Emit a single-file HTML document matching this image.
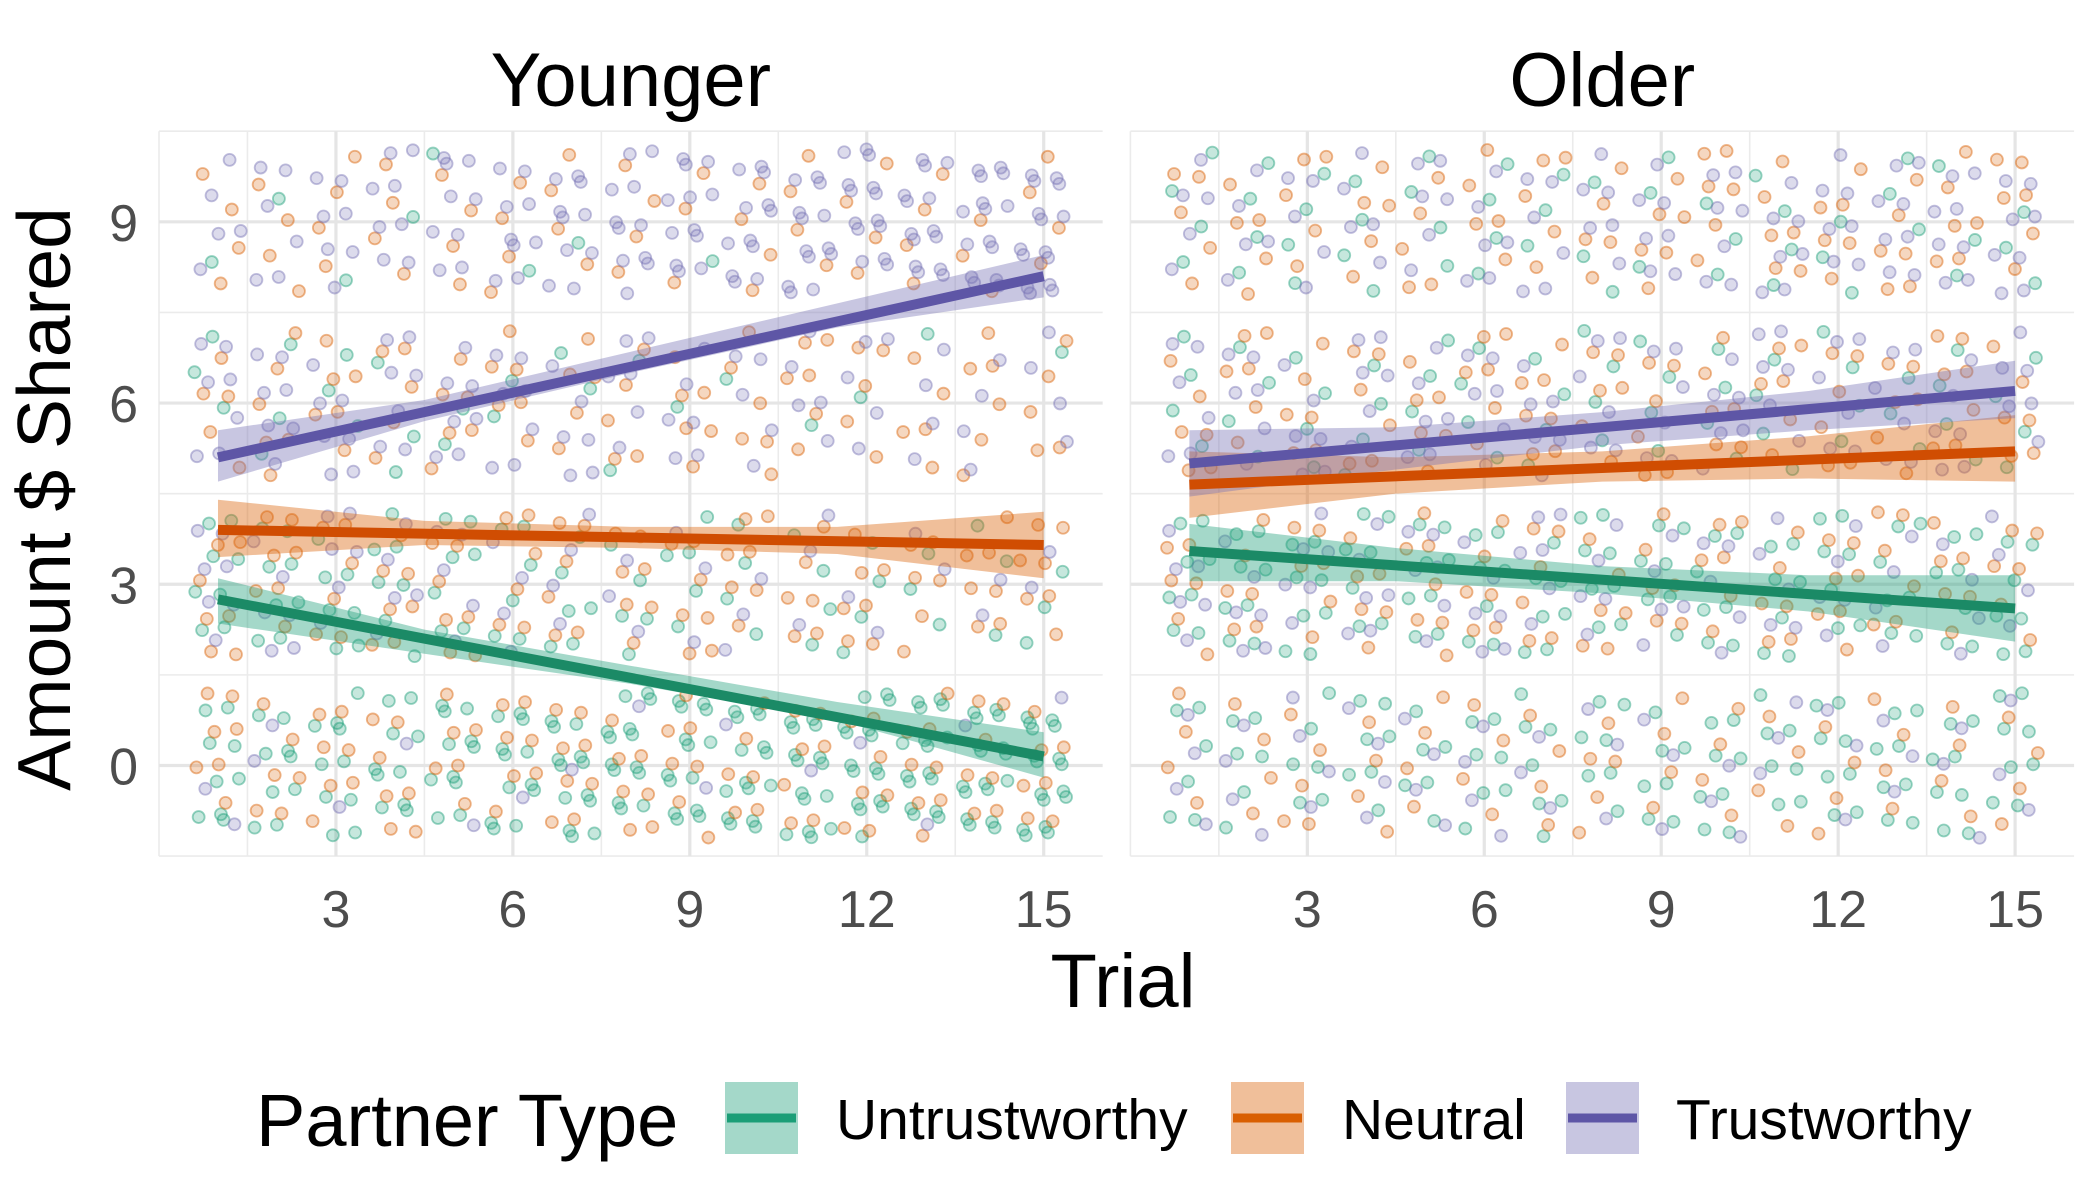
<!DOCTYPE html>
<html><head><meta charset="utf-8"><style>
html,body{margin:0;padding:0;background:#fff;}
svg{display:block;font-family:"Liberation Sans",Arial,sans-serif;}
</style></head><body>
<svg id="chart" width="2100" height="1200" viewBox="0 0 2100 1200" xmlns="http://www.w3.org/2000/svg">
<rect width="2100" height="1200" fill="#fff"/>
<g id="panels"></g>
<text transform="translate(70,499) rotate(-90)" text-anchor="middle" font-size="75" fill="#000">Amount $ Shared</text>
<text x="1123" y="1007" text-anchor="middle" font-size="76" fill="#000">Trial</text>
<g>
<text x="256" y="1146" font-size="74" fill="#000">Partner Type</text>
<g>
<rect x="725" y="1082" width="73" height="72" fill="#1b9e77" fill-opacity="0.4"/>
<line x1="727" y1="1118" x2="796" y2="1118" stroke="#1b9e77" stroke-width="9"/>
<text x="836" y="1139" font-size="57" fill="#000">Untrustworthy</text></g>
<g>
<rect x="1231" y="1082" width="73" height="72" fill="#d95f02" fill-opacity="0.4"/>
<line x1="1233" y1="1118" x2="1302" y2="1118" stroke="#d95f02" stroke-width="9"/>
<text x="1342" y="1139" font-size="57" fill="#000">Neutral</text></g>
<g>
<rect x="1566" y="1082" width="73" height="72" fill="#7570b3" fill-opacity="0.4"/>
<line x1="1568" y1="1118" x2="1637" y2="1118" stroke="#5e56a6" stroke-width="9"/>
<text x="1676" y="1139" font-size="57" fill="#000">Trustworthy</text></g>
</g>
</svg>
<script>
// ---- data ----
const groups = ["Younger","Older"];
const types = ["Untrustworthy","Neutral","Trustworthy"];
const levels = [0,3,6,9];
const xTicks = [3,6,9,12,15];
const yTicks = [0,3,6,9];
// counts per trial (1..15) of responses at each level, [group][type][level]
const countsYoungerU = [[9,9,10,10,11,12,13,14,14,15,15,16,16,17,17],[8,8,7,7,7,6,6,5,5,4,4,4,3,3,3],[3,3,3,3,2,2,2,2,1,1,1,1,1,0,1],[1,1,1,1,1,1,1,0,1,0,0,0,0,0,0]];
const countsYoungerN = [[7,6,7,7,6,7,8,7,7,6,7,7,8,7,7],[7,7,6,7,7,6,6,7,7,7,6,7,6,7,7],[5,6,6,5,6,6,5,5,6,6,6,5,5,6,5],[4,4,4,4,4,4,4,4,3,4,4,4,4,3,4]];
const countsYoungerT = [[2,2,1,1,1,1,1,1,1,1,1,1,1,1,1],[7,6,6,5,5,4,4,3,3,3,3,2,2,2,2],[7,7,7,7,7,7,6,6,6,5,5,5,4,4,4],[5,6,7,8,9,9,10,11,12,12,13,14,14,15,15]];
const countsOlderU = [[6,6,6,7,6,7,7,7,7,8,7,8,8,8,8],[8,8,8,7,8,7,7,8,7,7,7,7,7,7,7],[4,4,4,4,4,4,4,4,4,4,4,4,3,4,4],[4,4,4,4,4,4,3,3,3,3,4,3,3,3,3]];
const countsOlderN = [[4,4,5,4,4,4,4,5,4,4,4,4,4,4,4],[6,6,6,6,7,6,6,6,6,6,6,7,6,6,6],[6,6,6,6,6,6,7,6,6,6,6,6,6,7,6],[5,5,5,5,5,5,5,5,6,6,6,6,6,6,6]];
const countsOlderT = [[4,4,4,4,4,4,3,3,3,3,3,3,3,3,3],[6,6,6,6,6,6,6,5,5,5,5,5,4,4,4],[6,6,6,6,6,6,6,6,6,6,6,6,6,6,6],[5,5,5,5,6,6,6,6,7,7,7,7,8,8,8]];
// regression fits: value at trial 1 and trial 15
const fitStartYounger = [2.75,3.9,5.1];
const fitEndYounger = [0.15,3.65,8.1];
const fitStartOlder = [3.55,4.65,5.0];
const fitEndOlder = [2.6,5.2,6.2];
// confidence band at trials bandX
const bandX = [1,4.5,8,11.5,15];
const bandLoYoungerU = [2.35,1.85,1.35,0.75,-0.2];
const bandHiYoungerU = [3.1,2.25,1.65,1.05,0.55];
const bandLoYoungerN = [3.45,3.65,3.6,3.5,3.1];
const bandHiYoungerN = [4.4,4.05,3.95,3.95,4.2];
const bandLoYoungerT = [4.7,5.7,6.5,7.25,7.75];
const bandHiYoungerT = [5.55,6.05,6.85,7.65,8.45];
const bandLoOlderU = [3.05,3.05,2.85,2.55,2.05];
const bandHiOlderU = [4.0,3.6,3.3,3.15,3.15];
const bandLoOlderN = [4.1,4.5,4.7,4.75,4.7];
const bandHiOlderN = [5.2,5.1,5.2,5.45,5.8];
const bandLoOlderT = [4.45,4.9,5.3,5.55,5.75];
const bandHiOlderT = [5.55,5.6,5.85,6.2,6.7];

const counts = [[countsYoungerU,countsYoungerN,countsYoungerT],[countsOlderU,countsOlderN,countsOlderT]];
const fitStart = [fitStartYounger,fitStartOlder], fitEnd=[fitEndYounger,fitEndOlder];
const bandLo = [[bandLoYoungerU,bandLoYoungerN,bandLoYoungerT],[bandLoOlderU,bandLoOlderN,bandLoOlderT]];
const bandHi = [[bandHiYoungerU,bandHiYoungerN,bandHiYoungerT],[bandHiOlderU,bandHiOlderN,bandHiOlderT]];
const fillColors = ["#1b9e77","#d95f02","#7570b3"];
const lineColors = ["#1b8a66","#d04d02","#5e56a6"];

// ---- layout ----
const NS="http://www.w3.org/2000/svg";
const panelLeft=[159,1130.4], unit=58.98, yTop=131.2, yBot=856.1;
const yMin=-1.5, yMax=10.5;
function sx(p,v){return panelLeft[p]+v*unit;}
function sy(v){return yBot-(v-yMin)/(yMax-yMin)*(yBot-yTop);}
function mk(tag,attrs,parent){const e=document.createElementNS(NS,tag);for(const k in attrs)e.setAttribute(k,attrs[k]);parent.appendChild(e);return e;}
const root=document.getElementById('panels');

groups.forEach((g,p)=>{
  const pg=mk('g',{},root);
  
  
  const x0=sx(p,0), x1=sx(p,16);
  [-1.5,1.5,4.5,7.5,10.5].forEach(v=>{const l=mk('line',{x1:x0,x2:x1,y1:sy(v),y2:sy(v),stroke:'#ebebeb','stroke-width':1.6},pg);
     });
  [0,1.5,4.5,7.5,10.5,13.5].forEach(v=>{const l=mk('line',{x1:sx(p,v),x2:sx(p,v),y1:yTop,y2:yBot,stroke:'#ebebeb','stroke-width':1.6},pg);
     });
  yTicks.forEach(v=>{const l=mk('line',{x1:x0,x2:x1,y1:sy(v),y2:sy(v),stroke:'#e5e5e5','stroke-width':3.2},pg);
     });
  xTicks.forEach(v=>{const l=mk('line',{x1:sx(p,v),x2:sx(p,v),y1:yTop,y2:yBot,stroke:'#e5e5e5','stroke-width':3.2},pg);
     });
  xTicks.forEach(v=>{const t=mk('text',{x:sx(p,v),y:927,'text-anchor':'middle','font-size':52,fill:'#4d4d4d'},pg);t.textContent=v;
     });
  if(p===0) yTicks.forEach(v=>{const t=mk('text',{x:138,y:sy(v)+19,'text-anchor':'end','font-size':52,fill:'#4d4d4d'},pg);t.textContent=v;
     });
  const title=mk('text',{x:(x0+x1)/2,y:106,'text-anchor':'middle','font-size':76,fill:'#000'},pg);
  title.textContent=g;
   
  const ptsG=mk('g',{},pg);
   
  let k=0;
  for(let trial=1;trial<=15;trial++){
    types.forEach((ty,ti)=>{
      levels.forEach((lv,li)=>{
        const n=counts[p][ti][li][trial-1];
        for(let j=0;j<n;j++){
          k++;
          const jx=(((k*0.6180339+ti*0.21+li*0.13)%1)-0.5)*0.8;
          const jy=(((k*0.7548777+trial*0.37)%1)-0.5)*2.4;
          const c=mk('circle',{cx:sx(p,trial+jx),cy:sy(lv+jy),r:6,fill:fillColors[ti],'fill-opacity':0.25,stroke:fillColors[ti],'stroke-opacity':0.45,'stroke-width':1.8},ptsG);
          
          
        }
      });
    });
  }
  types.forEach((ty,ti)=>{
    const lo=bandLo[p][ti], hi=bandHi[p][ti];
    let d='M'+bandX.map((x,i)=>sx(p,x)+','+sy(hi[i])).join('L');
    d+='L'+bandX.map((x,i)=>sx(p,x)+','+sy(lo[i])).reverse().join('L')+'Z';
    const b=mk('path',{d:d,fill:fillColors[ti],'fill-opacity':0.4},pg);
    
    
  });
  types.forEach((ty,ti)=>{
    const l=mk('line',{x1:sx(p,1),y1:sy(fitStart[p][ti]),x2:sx(p,15),y2:sy(fitEnd[p][ti]),stroke:lineColors[ti],'stroke-width':10},pg);
    
    
  });
});
</script>
</body></html>
